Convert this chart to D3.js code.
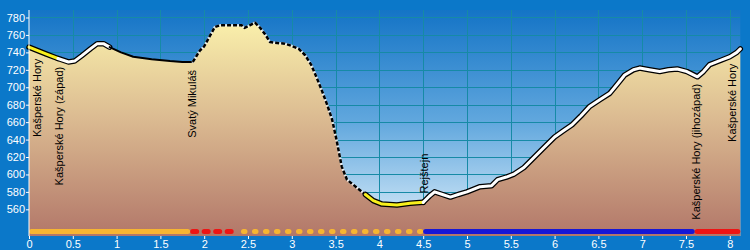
<!DOCTYPE html>
<html>
<head>
<meta charset="utf-8">
<script src="https://cdn.jsdelivr.net/npm/d3@7"></script>
<style>
  body { margin: 0; background: #0b78c9; }
  svg { display: block; }
</style>
</head>
<body>
<div id="chart"></div>
<script>
// elevation profile (km, m)
var distKm = [0.00,0.10,0.20,0.33,0.45,0.52,0.60,0.70,0.78,0.85,0.92,1.05,1.19,1.40,1.61,1.75,1.87,1.95,2.00,2.06,
  2.12,2.18,2.30,2.43,2.46,2.52,2.58,2.64,2.70,2.75,2.81,2.92,3.01,3.08,3.15,3.22,3.28,3.34,3.40,3.46,
  3.51,3.57,3.63,3.68,3.74,3.84,3.93,4.03,4.20,4.35,4.50,4.57,4.63,4.72,4.81,4.90,5.00,5.15,5.28,5.35,
  5.45,5.53,5.65,5.75,5.87,6.00,6.10,6.20,6.30,6.40,6.52,6.63,6.72,6.80,6.90,6.97,7.08,7.20,7.30,7.40,
  7.51,7.63,7.70,7.77,7.90,8.00,8.08,8.12];
var elevM = [746,742,738,733,729,730,736,744,750,750,746,740,735,732,730,729,729,742,747,758,
  769,771,771,771,768,771,774,768,760,752,751,750,747,744,737,726,712,697,681,663,
  640,609,594,590,585,577,570,566,565,567,568,575,580,577,574,577,580,586,587,594,
  597,600,608,618,630,643,650,657,667,678,686,693,704,714,720,722,720,718,720,721,
  718,712,718,726,731,735,740,744];

// line segments along the profile
var lineFrom = [0, 0.33, 0.92, 1.87, 3.84, 4.5];
var lineTo   = [0.33, 0.92, 1.87, 3.84, 4.5, 8.12];
var lineType = ["yellow", "white", "black", "dashed", "yellow", "white"];

// bar under the profile
var barFrom = [0, 1.84, 2.42, 4.5, 7.6];
var barTo   = [1.84, 2.42, 4.5, 7.6, 8.12];
var barType = ["orangeSolid", "redDashed", "orangeDashed", "blueSolid", "redSolid"];

// place names
var placeNames = ["Kašperské Hory", "Kašperské Hory (západ)", "Svatý Mikuláš", "Rejštejn", "Kašperské Hory (jihozápad)", "Kašperské Hory"];
var placeKm = [0.09, 0.34, 1.86, 4.51, 7.61, 8.02];

var xTicks = [0,0.5,1,1.5,2,2.5,3,3.5,4,4.5,5,5.5,6,6.5,7,7.5,8];
var yTicks = [560,580,600,620,640,660,680,700,720,740,760,780];

var width = 750, height = 250;
var x = d3.scaleLinear().domain([0, 8.12]).range([29, 740.3]);
var y = d3.scaleLinear().domain([529.4, 788.6]).range([236, 10]);

var svg = d3.select("#chart").append("svg")
    .attr("width", width).attr("height", height)
    .style("font-family", "Arial, 'Liberation Sans', sans-serif");

var defs = svg.append("defs");
var sky = defs.append("linearGradient").attr("id", "sky")
    .attr("gradientUnits", "userSpaceOnUse").attr("x1", 0).attr("x2", 0).attr("y1", 10).attr("y2", 236);
sky.append("stop").attr("offset", 0).attr("stop-color", "#1474c6");
sky.append("stop").attr("offset", 0.5).attr("stop-color", "#62a8de");
sky.append("stop").attr("offset", 1).attr("stop-color", "#e2f1fb");

var ground = defs.append("linearGradient").attr("id", "ground")
    .attr("gradientUnits", "userSpaceOnUse").attr("x1", 0).attr("x2", 0).attr("y1", 18).attr("y2", 236);
ground.append("stop").attr("offset", 0).attr("stop-color", "#fbf2ac");
ground.append("stop").attr("offset", 0.45).attr("stop-color", "#dcbc92");
ground.append("stop").attr("offset", 1).attr("stop-color", "#b27769");

// sky
svg.append("rect").attr("x", 29).attr("y", 10).attr("width", 740.3 - 29).attr("height", 226)
    .attr("fill", "url(#sky)");

// grid
var grid = svg.append("g").attr("stroke", "#168aa6").attr("stroke-width", 1);
grid.selectAll(".gx").data(xTicks.filter(d => d > 0)).enter().append("line")
    .attr("x1", d => Math.round(x(d)) + 0.5).attr("x2", d => Math.round(x(d)) + 0.5)
    .attr("y1", 10).attr("y2", 236);
grid.selectAll(".gy").data(yTicks).enter().append("line")
    .attr("x1", 29).attr("x2", 740)
    .attr("y1", d => Math.round(y(d)) + 0.5).attr("y2", d => Math.round(y(d)) + 0.5);

var pts = distKm.map((d, i) => [d, elevM[i]]);

// ground fill
var area = d3.area().x(d => x(d[0])).y0(236).y1(d => y(d[1]));
svg.append("path").datum(pts).attr("d", area).attr("fill", "url(#ground)");

// profile line
var line = d3.line().x(d => x(d[0])).y(d => y(d[1]));
function segPts(a, b) {
  return pts.filter(p => p[0] >= a - 1e-9 && p[0] <= b + 1e-9);
}
var lineG = svg.append("g").attr("fill", "none").attr("stroke-linejoin", "round").attr("stroke-linecap", "round");
lineType.forEach((t, i) => {
  var d = line(segPts(lineFrom[i], lineTo[i]));
  if (t === "yellow" || t === "white") {
    lineG.append("path").attr("d", d).attr("stroke", "#000").attr("stroke-width", 5.5);
  }
});
lineType.forEach((t, i) => {
  var d = line(segPts(lineFrom[i], lineTo[i]));
  if (t === "yellow") {
    lineG.append("path").attr("d", d).attr("stroke", "#f8f01c").attr("stroke-width", 3);
  } else if (t === "white") {
    lineG.append("path").attr("d", d).attr("stroke", "#fff").attr("stroke-width", 3);
  } else if (t === "black") {
    lineG.append("path").attr("d", d).attr("stroke", "#000").attr("stroke-width", 2);
  } else if (t === "dashed") {
    lineG.append("path").attr("d", d).attr("stroke", "#fff").attr("stroke-width", 2.5).attr("stroke-opacity", 0.7);
    lineG.append("path").attr("d", d).attr("stroke", "#000").attr("stroke-width", 2.5)
      .attr("stroke-linecap", "butt").attr("stroke-dasharray", "4,2");
  }
});

// bottom bar
var barY = 231.5;
var barStyle = {
  orangeSolid: {c: "#f6b532", dash: null},
  redDashed: {c: "#ee1414", dash: "4,7.5"},
  orangeDashed: {c: "#f6b532", dash: "1.5,9.5"},
  blueSolid: {c: "#1616d6", dash: null},
  redSolid: {c: "#ee1414", dash: null}
};
var barG = svg.append("g").attr("stroke-linecap", "round").attr("stroke-width", 5);
barType.forEach((t, i) => {
  var s = barStyle[t];
  var x1 = x(barFrom[i]) + 2.5, x2 = x(barTo[i]) - 2.5;
  barG.append("line").attr("x1", x1).attr("x2", x2).attr("y1", barY).attr("y2", barY)
    .attr("stroke", s.c).attr("stroke-dasharray", s.dash);
});

// place labels
var elevAt = km => {
  var i = d3.bisector(d => d).left(distKm, km);
  if (i <= 0) return elevM[0];
  if (i >= distKm.length) return elevM[elevM.length - 1];
  var t = (km - distKm[i - 1]) / (distKm[i] - distKm[i - 1]);
  return elevM[i - 1] + t * (elevM[i] - elevM[i - 1]);
};
var labG = svg.append("g");
placeNames.forEach((name, i) => {
  var px = x(placeKm[i]) + 4;
  var py = y(elevAt(placeKm[i]));
  var txt = labG.append("text").attr("font-size", 11).attr("fill", "#000").text(name);
  var len = txt.node().getComputedTextLength();
  var start;
  if (py + 8 + len < 226) {
    start = Math.max(137, py + 8 + len);
  } else {
    start = py - 8;
  }
  txt.attr("transform", "translate(" + px + "," + start + ") rotate(-90)");
});

// axes
var yAxis = svg.append("g").attr("transform", "translate(29,0)")
    .call(d3.axisLeft(y).tickValues(yTicks).tickSize(3).tickPadding(1));
yAxis.select(".domain").attr("stroke", "#fff").attr("d", "M0,10V236");
yAxis.selectAll(".tick line").attr("stroke", "#fff");
yAxis.selectAll(".tick text").attr("fill", "#fff").attr("font-size", 11).attr("font-family", "Arial, 'Liberation Sans', sans-serif");

var xAxis = svg.append("g").attr("transform", "translate(0,236)")
    .call(d3.axisBottom(x).tickValues(xTicks).tickFormat(d3.format("")).tickSize(3).tickPadding(1));
xAxis.select(".domain").remove();
xAxis.selectAll(".tick line").attr("stroke", "#fff");
xAxis.selectAll(".tick text").attr("fill", "#fff").attr("font-size", 11).attr("font-family", "Arial, 'Liberation Sans', sans-serif");
</script>
</body>
</html>
